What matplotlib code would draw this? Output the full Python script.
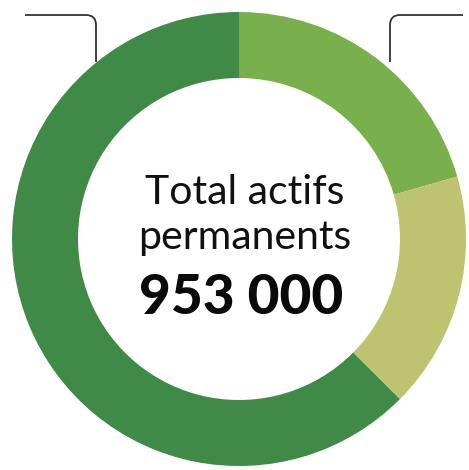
import matplotlib.pyplot as plt
from matplotlib.path import Path
from matplotlib.patches import PathPatch

# actifs permanents, en milliers
parts = [196, 161, 596]
colors = ['#7AB04B', '#BEC36F', '#3F8A46']
title_lines = ['Total actifs', 'permanents']
total_label = '953 000'

W, H = 469, 470
fig = plt.figure(figsize=(W / 100, H / 100), dpi=100)
ax = fig.add_axes([0, 0, 1, 1])

cx, cy = 239, H - 239
ax.pie(parts, colors=colors, startangle=90, counterclock=False,
       center=(cx, cy), radius=227,
       wedgeprops=dict(width=66, linewidth=0))

ax.set_xlim(0, W)
ax.set_ylim(0, H)
ax.set_aspect('equal')
ax.axis('off')


def leader(x0, xc, y0, y1, r=10):
    # horizontal then rounded corner then down
    s = 1 if xc > x0 else -1
    verts = [(x0, H - y0), (xc - s * r, H - y0),
             (xc, H - y0), (xc, H - y0 - r),
             (xc, H - y1)]
    codes = [Path.MOVETO, Path.LINETO, Path.CURVE3, Path.CURVE3, Path.LINETO]
    ax.add_patch(PathPatch(Path(verts, codes), fill=False,
                           edgecolor='#333333', linewidth=1.3, zorder=0))


leader(25, 96, 15, 62)
leader(463, 390, 15, 62)

font = 'Lato'
ax.text(245, H - 204, title_lines[0], ha='center', va='baseline',
        fontsize=29.5, family=font, color='#111111')
ax.text(245, H - 249, title_lines[1], ha='center', va='baseline',
        fontsize=29.5, family=font, color='#111111')
ax.text(241, H - 314, total_label, ha='center', va='baseline',
        fontsize=39.5, family=font, fontweight=900, color='#0a0a0a')

fig.savefig('out.png', dpi=100)
